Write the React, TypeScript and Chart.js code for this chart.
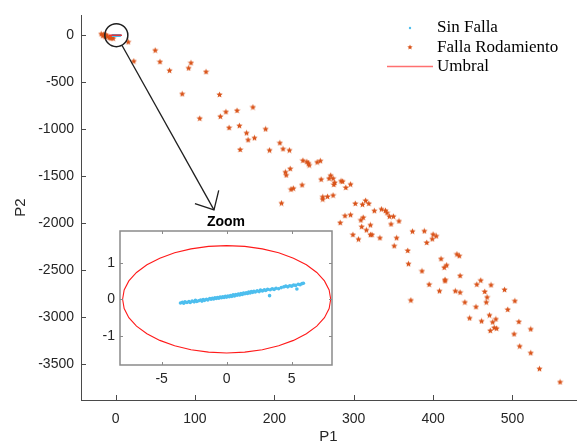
import React, { useEffect, useRef } from 'react';
import { Chart, registerables } from 'chart.js';
Chart.register(...registerables);

// ---------- tick labels ----------
const P1_TICKS = [0, 100, 200, 300, 400, 500];
const P2_TICKS = [-3500, -3000, -2500, -2000, -1500, -1000, -500, 0];
const ZOOM_X_TICKS = [-5, 0, 5];
const ZOOM_Y_TICKS = [-1, 0, 1];

// ---------- series: Sin Falla ----------
const sinFallaP1 = [-3.55, -3.4, -3.3, -3.2, -3.05, -2.9, -2.8, -2.65, -2.5, -2.4, -2.3, -2.15, -2.0, -1.9, -1.8, -1.7, -1.55, -1.45, -1.3, -1.2, -1.1, -1.0, -0.9, -0.8, -0.7, -0.6, -0.5, -0.4, -0.3, -0.2, -0.1, 0.0, 0.1, 0.2, 0.3, 0.4, 0.5, 0.6, 0.7, 0.8, 0.9, 1.0, 1.1, 1.2, 1.3, 1.4, 1.5, 1.6, 1.7, 1.8, 1.9, 2.0, 2.1, 2.2, 2.35, 2.5, 2.6, 2.75, 2.9, 3.0, 3.15, 3.3, 3.35, 3.5, 3.65, 3.8, 4.0, 4.2, 4.4, 4.55, 4.7, 4.85, 5.0, 5.15, 5.3, 5.4, 5.5, 5.65, 5.8, 5.9];
const sinFallaP2 = [-0.10, -0.08, -0.11, -0.07, -0.09, -0.06, -0.09, -0.05, -0.07, -0.03, -0.06, -0.04, -0.02, -0.05, -0.01, -0.03, 0.0, -0.02, 0.02, 0.0, 0.03, 0.01, 0.04, 0.02, 0.05, 0.03, 0.06, 0.04, 0.07, 0.05, 0.08, 0.06, 0.09, 0.07, 0.10, 0.08, 0.12, 0.09, 0.13, 0.11, 0.14, 0.12, 0.16, 0.13, 0.17, 0.15, 0.18, 0.16, 0.20, 0.17, 0.21, 0.19, 0.22, 0.20, 0.23, 0.21, 0.25, 0.23, 0.26, 0.24, 0.27, 0.10, 0.26, 0.29, 0.27, 0.30, 0.29, 0.32, 0.34, 0.36, 0.34, 0.37, 0.36, 0.39, 0.38, 0.28, 0.41, 0.40, 0.43, 0.44];

// ---------- series: Falla Rodamiento ----------
const fallaP1 = [-18, -16, -15, -13, -12, -10, -8, -6, -4, -3,
  16, 50, 23, 56, 95, 92, 68, 114, 84, 131, 106, 132, 139, 153, 173, 143, 156, 165, 189, 175, 167, 157, 194, 207, 211, 219,
  236, 241, 244, 243, 254, 258, 220, 214, 215, 235, 221, 224, 209, 259, 271, 269, 274, 276, 275, 284, 286, 296, 290,
  261, 267, 274, 261, 302, 311, 315, 319, 326, 335, 340, 342, 345, 350, 357, 347, 289, 296, 283, 309, 312, 310, 321, 316,
  299, 321, 323, 306, 333, 354, 351, 374, 389, 400, 404, 399, 392, 368, 369, 386, 410, 414, 417, 430, 433, 434,
  395, 415, 415, 408, 428, 434, 440, 372, 460, 455, 473, 465, 468, 467, 490, 503, 454, 494,
  446, 471, 461, 479, 475, 508, 477, 480, 472, 502, 523, 509, 523, 534, 560];
const fallaP2 = [15, -5, 10, -15, 5, -10, -25, -30, -20, -32,
  -71, -159, -275, -282, -293, -349, -374, -388, -624, -631, -885, -864, -815, -801, -765, -984, -963, -1040, -998, -1093, -1114, -1217, -1224, -1146, -1210, -1224,
  -1333, -1347, -1383, -1362, -1351, -1337, -1421, -1457, -1489, -1594, -1640, -1630, -1788, -1534, -1492, -1524, -1524, -1569, -1590, -1552, -1556, -1587, -1622,
  -1721, -1717, -1704, -1746, -1792, -1802, -1760, -1792, -1869, -1852, -1866, -1891, -1929, -1929, -1979, -2011, -1922, -1912, -1996, -1968, -1940, -2039, -2021, -2074,
  -2124, -2124, -2124, -2172, -2158, -2158, -2243, -2088, -2085, -2120, -2138, -2169, -2208, -2293, -2434, -2511, -2381, -2473, -2448, -2331, -2349, -2561,
  -2653, -2603, -2617, -2723, -2723, -2738, -2843, -2822, -2610, -2653, -2659, -2730, -2790, -2843, -2709, -2829, -2892, -2921,
  -3012, -2981, -3044, -3023, -3055, -3051, -3114, -3122, -3146, -3182, -3129, -3312, -3383, -3552, -3693];

// ---------- series: Umbral (threshold ellipse) ----------
const umbralP1 = [8, 7.88, 7.52, 6.93, 6.13, 5.14, 4.0, 2.74, 1.39, 0, -1.39, -2.74, -4.0, -5.14, -6.13, -6.93, -7.52, -7.88, -8, -7.88, -7.52, -6.93, -6.13, -5.14, -4.0, -2.74, -1.39, 0, 1.39, 2.74, 4.0, 5.14, 6.13, 6.93, 7.52, 7.88, 8];
const umbralP2 = [0, 0.255, 0.503, 0.735, 0.945, 1.126, 1.273, 1.381, 1.448, 1.47, 1.448, 1.381, 1.273, 1.126, 0.945, 0.735, 0.503, 0.255, 0, -0.255, -0.503, -0.735, -0.945, -1.126, -1.273, -1.381, -1.448, -1.47, -1.448, -1.381, -1.273, -1.126, -0.945, -0.735, -0.503, -0.255, 0];

// ---------- annotation anchors (data coords) ----------
const CIRCLE_AT = [1, 0];
const ARROW_TIP = [124, -1860];

const ORANGE = '#D95319';
const BLUE = '#4DBEEE';
const RED = '#FF1A1A';
const AXIS = '#4a4a4a';
const TXT = '#262626';
const SANS = '"Liberation Sans", Arial, sans-serif';
const SERIF = '"Liberation Serif", "Times New Roman", serif';

const pts = (xs: number[], ys: number[]) => xs.map((v, i) => ({ x: v, y: ys[i] }));
const plain = (v: any) => String(v);

function makeStar(size: number, color: string) {
  const c = document.createElement('canvas');
  c.width = size; c.height = size;
  const g = c.getContext('2d')!;
  const R = size / 2 - 0.2, r = R * 0.45, cx = size / 2, cy = size / 2 + 0.3;
  g.beginPath();
  for (let i = 0; i < 10; i++) {
    const a = -Math.PI / 2 + (i * Math.PI) / 5;
    const rr = i % 2 === 0 ? R : r;
    const px = cx + rr * Math.cos(a), py = cy + rr * Math.sin(a);
    if (i === 0) g.moveTo(px, py); else g.lineTo(px, py);
  }
  g.closePath();
  g.fillStyle = color;
  g.fill();
  return c;
}

export default function App() {
  const mainRef = useRef<HTMLCanvasElement>(null);
  const zoomRef = useRef<HTMLCanvasElement>(null);

  useEffect(() => {
    const star = makeStar(7, ORANGE);
    const legendStar = makeStar(6, ORANGE);

    const mainDecor = {
      id: 'mainDecor',
      afterDraw(chart: any) {
        const { ctx, chartArea: a, scales } = chart;
        const x = scales.x, y = scales.y;
        ctx.save();
        ctx.strokeStyle = AXIS;
        ctx.lineWidth = 1;
        P1_TICKS.forEach((v) => {
          const px = Math.round(x.getPixelForValue(v)) + 0.5;
          ctx.beginPath(); ctx.moveTo(px, a.bottom); ctx.lineTo(px, a.bottom - 5); ctx.stroke();
        });
        P2_TICKS.forEach((v) => {
          const py = Math.round(y.getPixelForValue(v)) + 0.5;
          ctx.beginPath(); ctx.moveTo(a.left, py); ctx.lineTo(a.left + 5, py); ctx.stroke();
        });
        // circle + arrow
        const cx = x.getPixelForValue(CIRCLE_AT[0]);
        const cy = y.getPixelForValue(CIRCLE_AT[1]);
        const R = 11.5;
        ctx.strokeStyle = '#1e1e1e';
        ctx.lineWidth = 1.5;
        ctx.beginPath(); ctx.arc(cx, cy, R, 0, Math.PI * 2); ctx.stroke();
        const tx = x.getPixelForValue(ARROW_TIP[0]);
        const ty = y.getPixelForValue(ARROW_TIP[1]);
        const ang = Math.atan2(ty - cy, tx - cx);
        const sx = cx + R * Math.cos(ang), sy = cy + R * Math.sin(ang);
        ctx.lineWidth = 1.3;
        ctx.beginPath(); ctx.moveTo(sx, sy); ctx.lineTo(tx, ty); ctx.stroke();
        const back = ang + Math.PI, w = 0.75, L = 20;
        ctx.beginPath();
        ctx.moveTo(tx + L * Math.cos(back - w), ty + L * Math.sin(back - w));
        ctx.lineTo(tx, ty);
        ctx.lineTo(tx + L * Math.cos(back + w), ty + L * Math.sin(back + w));
        ctx.stroke();
        // legend
        ctx.fillStyle = BLUE;
        ctx.beginPath(); ctx.arc(410, 28, 1.2, 0, Math.PI * 2); ctx.fill();
        ctx.drawImage(legendStar, 407, 44);
        ctx.strokeStyle = '#ff7070';
        ctx.lineWidth = 1.5;
        ctx.beginPath(); ctx.moveTo(387, 66.5); ctx.lineTo(433, 66.5); ctx.stroke();
        ctx.fillStyle = '#000';
        ctx.font = `17px ${SERIF}`;
        ctx.textBaseline = 'middle';
        ctx.textAlign = 'left';
        ctx.fillText('Sin Falla', 437, 28);
        ctx.fillText('Falla Rodamiento', 437, 48);
        ctx.fillText('Umbral', 437, 67);
        ctx.restore();
      },
    };

    const main = new Chart(mainRef.current!, {
      type: 'scatter',
      data: {
        datasets: [
          { label: 'Umbral', data: pts(umbralP1, umbralP2), showLine: true, borderColor: RED, borderWidth: 1, pointRadius: 0, tension: 0 } as any,
          { label: 'Sin Falla', data: pts(sinFallaP1, sinFallaP2), pointRadius: 1.2, backgroundColor: BLUE, borderWidth: 0 },
          { label: 'Falla Rodamiento', data: pts(fallaP1, fallaP2), pointStyle: star as any, pointRadius: 3, backgroundColor: ORANGE, borderWidth: 0 },
        ],
      },
      options: {
        animation: false,
        responsive: false,
        maintainAspectRatio: false,
        layout: { padding: { top: 12, right: 0, left: 0, bottom: 0 } },
        plugins: { legend: { display: false }, tooltip: { enabled: false } },
        scales: {
          x: {
            type: 'linear', min: -43.5, max: 580,
            afterBuildTicks: (s: any) => { s.ticks = P1_TICKS.map((v) => ({ value: v })); },
            afterFit: (s: any) => { s.height = 44; },
            grid: { display: false, drawTicks: false },
            border: { display: true, color: AXIS, width: 1 },
            ticks: { font: { family: SANS, size: 14 }, color: TXT, padding: 11, maxRotation: 0, callback: plain },
            title: { display: true, text: 'P1', font: { family: SANS, size: 15, lineHeight: 1 }, color: TXT, padding: { top: 0, bottom: 0 } },
          },
          y: {
            type: 'linear', min: -3886, max: 211,
            afterBuildTicks: (s: any) => { s.ticks = P2_TICKS.map((v) => ({ value: v })); },
            afterFit: (s: any) => { s.width = 81; },
            grid: { display: false, drawTicks: false },
            border: { display: true, color: AXIS, width: 1 },
            ticks: { font: { family: SANS, size: 14 }, color: TXT, padding: 7, callback: plain },
            title: { display: true, text: 'P2', font: { family: SANS, size: 15, lineHeight: 1 }, color: TXT, padding: { top: 13, bottom: 0 } },
          },
        },
      } as any,
      plugins: [mainDecor],
    });

    const zoomDecor = {
      id: 'zoomDecor',
      beforeDatasetsDraw(chart: any) {
        const { ctx, chartArea: a } = chart;
        ctx.save();
        ctx.fillStyle = '#fff';
        ctx.fillRect(a.left, a.top, a.right - a.left, a.bottom - a.top);
        ctx.restore();
      },
      afterDraw(chart: any) {
        const { ctx, chartArea: a, scales } = chart;
        const x = scales.x, y = scales.y;
        ctx.save();
        ctx.strokeStyle = '#8a8a8a';
        ctx.lineWidth = 1.5;
        ctx.strokeRect(a.left, a.top, a.right - a.left, a.bottom - a.top);
        ctx.lineWidth = 1;
        ZOOM_X_TICKS.forEach((v) => {
          const px = Math.round(x.getPixelForValue(v)) + 0.5;
          ctx.beginPath(); ctx.moveTo(px, a.bottom); ctx.lineTo(px, a.bottom - 3); ctx.stroke();
          ctx.beginPath(); ctx.moveTo(px, a.top); ctx.lineTo(px, a.top + 3); ctx.stroke();
        });
        ZOOM_Y_TICKS.forEach((v) => {
          const py = Math.round(y.getPixelForValue(v)) + 0.5;
          ctx.beginPath(); ctx.moveTo(a.left, py); ctx.lineTo(a.left + 3, py); ctx.stroke();
          ctx.beginPath(); ctx.moveTo(a.right, py); ctx.lineTo(a.right - 3, py); ctx.stroke();
        });
        ctx.fillStyle = '#000';
        ctx.font = `bold 14px ${SANS}`;
        ctx.textAlign = 'center';
        ctx.textBaseline = 'middle';
        ctx.fillText('Zoom', (a.left + a.right) / 2, 14);
        ctx.restore();
      },
    };

    const zoom = new Chart(zoomRef.current!, {
      type: 'scatter',
      data: {
        datasets: [
          { label: 'Umbral', data: pts(umbralP1, umbralP2), showLine: true, borderColor: RED, borderWidth: 1.1, pointRadius: 0, tension: 0 } as any,
          { label: 'Sin Falla', data: pts(sinFallaP1, sinFallaP2), pointRadius: 1.8, backgroundColor: BLUE, borderWidth: 0 },
        ],
      },
      options: {
        animation: false,
        responsive: false,
        maintainAspectRatio: false,
        layout: { padding: { top: 23, right: 8, left: 0, bottom: 0 } },
        plugins: { legend: { display: false }, tooltip: { enabled: false } },
        scales: {
          x: {
            type: 'linear', min: -8.2, max: 8.1,
            afterBuildTicks: (s: any) => { s.ticks = ZOOM_X_TICKS.map((v) => ({ value: v })); },
            afterFit: (s: any) => { s.height = 23; },
            grid: { display: false, drawTicks: false },
            border: { display: false },
            ticks: { font: { family: SANS, size: 14 }, color: TXT, padding: 6, maxRotation: 0, callback: plain },
          },
          y: {
            type: 'linear', min: -1.8, max: 1.87,
            afterBuildTicks: (s: any) => { s.ticks = ZOOM_Y_TICKS.map((v) => ({ value: v })); },
            afterFit: (s: any) => { s.width = 40; },
            grid: { display: false, drawTicks: false },
            border: { display: false },
            ticks: { font: { family: SANS, size: 14 }, color: TXT, padding: 5, callback: plain },
          },
        },
      } as any,
      plugins: [zoomDecor],
    });

    return () => { main.destroy(); zoom.destroy(); };
  }, []);

  return (
    <div style={{ position: 'fixed', left: 0, top: 0, width: 580, height: 444, background: '#fff' }}>
      <canvas ref={mainRef} width={580} height={444} style={{ position: 'absolute', left: 0, top: 0, width: 580, height: 444 }} />
      <canvas ref={zoomRef} width={260} height={180} style={{ position: 'absolute', left: 80, top: 208, width: 260, height: 180 }} />
    </div>
  );
}
